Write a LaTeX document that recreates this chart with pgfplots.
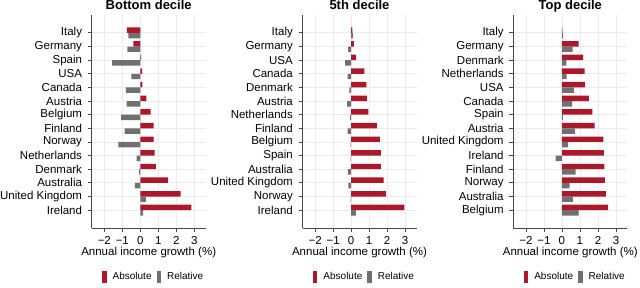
\documentclass[border=0pt]{standalone}
\usepackage{pgfplots}
\pgfplotsset{compat=1.18}
\usepackage{pgfplotstable}
\usepackage{fontspec}
\setmainfont{Liberation Sans}
\definecolor{absred}{RGB}{172,24,42}
\definecolor{relgray}{RGB}{112,112,112}
\definecolor{gridgray}{RGB}{235,235,235}
\definecolor{axisgray}{RGB}{70,70,70}

% Bottom decile
\pgfplotstableread{
y abs rel
1 -0.74 -0.67
2 -0.39 -0.72
3 0.05 -1.56
4 0.10 -0.50
5 0.12 -0.80
6 0.33 -0.76
7 0.57 -1.07
8 0.74 -0.87
9 0.74 -1.22
10 0.80 -0.20
11 0.87 -0.07
12 1.54 -0.30
13 2.24 0.31
14 2.83 0.15
}\bottomtab

% 5th decile
\pgfplotstableread{
y abs rel
1 0.07 0.10
2 0.15 -0.17
3 0.28 -0.33
4 0.74 -0.20
5 0.85 -0.10
6 0.87 -0.22
7 0.96 -0.05
8 1.43 -0.20
9 1.59 -0.03
10 1.65 -0.03
11 1.65 -0.18
12 1.80 -0.15
13 1.94 -0.03
14 2.96 0.26
}\midtab

% Top decile
\pgfplotstableread{
y abs rel
1 0.03 0.07
2 0.93 0.59
3 1.17 0.24
4 1.26 0.26
5 1.28 0.67
6 1.50 0.56
7 1.69 0.05
8 1.81 0.72
9 2.30 0.35
10 2.33 -0.35
11 2.35 0.76
12 2.39 0.43
13 2.44 0.61
14 2.56 0.93
}\toptab

\newcommand{\lblfont}{\fontsize{11.5bp}{13bp}\selectfont}

\pgfplotsset{
  panel/.style={
    scale only axis, width=114bp, height=213bp,
    xmin=-2.7, xmax=3.63, ymin=-0.31, ymax=15.31, y dir=reverse,
    xbar, bar width=0.4,
    axis x line*=bottom, axis y line*=left,
    axis line style={draw=axisgray, line width=0.8bp, -},
    tick align=outside, major tick length=4bp,
    tick style={draw=axisgray, line width=0.8bp},
    xtick={-2,...,3}, xticklabels={−2,−1,0,1,2,3},
    ytick={1,...,14},
    grid=major, major grid style={draw=gridgray, line width=0.8bp},
    tick label style={font=\lblfont, text=black},
    xticklabel style={anchor=base, inner sep=0pt, yshift=-12.2bp},
    yticklabel style={anchor=east, inner sep=0pt, xshift=-5.5bp},
    every axis title/.style={font=\bfseries\fontsize{13bp}{15bp}\selectfont, at={(0.5,1)}, anchor=base, yshift=5.5bp, inner sep=0pt},
    xlabel={Annual income growth (\%)},
    xlabel style={font=\lblfont, at={(axis description cs:0.5,0)}, anchor=base, yshift=-27.5bp},
    legend columns=2,
    legend image code/.code={\fill[##1] (0bp,-6bp) rectangle (4.5bp,6bp);},
    legend style={at={(0.535,-0.23)}, anchor=center, draw=none, fill=none,
      font=\fontsize{10bp}{12bp}\selectfont, inner sep=0pt,
      nodes={inner sep=0pt},
      /tikz/every odd column/.style={column sep=6bp},
      /tikz/every even column/.style={column sep=5bp}},
  }
}

\begin{document}
\begin{tikzpicture}
\path[use as bounding box] (0,0) rectangle (640bp,288bp);

\begin{axis}[panel, at={(91.7bp,60bp)}, anchor=south west, title={Bottom decile},
  yticklabels={Italy,Germany,Spain,USA,Canada,Austria,Belgium,Finland,Norway,Netherlands,Denmark,Australia,United Kingdom,Ireland}]
\addplot[fill=absred, draw=none, bar shift=-0.2, forget plot] table[x=abs, y=y] {\bottomtab};
\addplot[fill=relgray, draw=none, bar shift=0.2, forget plot] table[x=rel, y=y] {\bottomtab};
\addlegendimage{fill=absred, draw=none}
\addlegendentry{Absolute}
\addlegendimage{fill=relgray, draw=none}
\addlegendentry{Relative}
\end{axis}

\begin{axis}[panel, at={(302.5bp,60bp)}, anchor=south west, title={5th decile},
  yticklabels={Italy,Germany,USA,Canada,Denmark,Austria,Netherlands,Finland,Belgium,Spain,Australia,United Kingdom,Norway,Ireland}]
\addplot[fill=absred, draw=none, bar shift=-0.2, forget plot] table[x=abs, y=y] {\midtab};
\addplot[fill=relgray, draw=none, bar shift=0.2, forget plot] table[x=rel, y=y] {\midtab};
\addlegendimage{fill=absred, draw=none}
\addlegendentry{Absolute}
\addlegendimage{fill=relgray, draw=none}
\addlegendentry{Relative}
\end{axis}

\begin{axis}[panel, at={(513.3bp,60bp)}, anchor=south west, title={Top decile},
  yticklabels={Italy,Germany,Denmark,Netherlands,USA,Canada,Spain,Austria,United Kingdom,Ireland,Finland,Norway,Australia,Belgium}]
\addplot[fill=absred, draw=none, bar shift=-0.2, forget plot] table[x=abs, y=y] {\toptab};
\addplot[fill=relgray, draw=none, bar shift=0.2, forget plot] table[x=rel, y=y] {\toptab};
\addlegendimage{fill=absred, draw=none}
\addlegendentry{Absolute}
\addlegendimage{fill=relgray, draw=none}
\addlegendentry{Relative}
\end{axis}
\end{tikzpicture}
\end{document}
